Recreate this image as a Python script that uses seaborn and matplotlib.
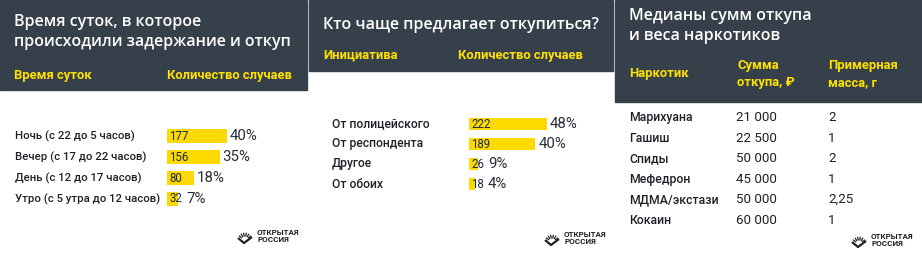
import numpy as np
import pandas as pd
import seaborn as sns
import matplotlib.pyplot as plt
import matplotlib.transforms as mtransforms
from matplotlib.patches import Rectangle
from matplotlib.lines import Line2D

# --- data ---
time_labels = ["Ночь (с 22 до 5 часов)", "Вечер (с 17 до 22 часов)",
               "День (с 12 до 17 часов)", "Утро (с 5 утра до 12 часов)"]
time_counts = [177, 156, 80, 32]
time_pct = [40, 35, 18, 7]

init_labels = ["От полицейского", "От респондента", "Другое", "От обоих"]
init_counts = [222, 189, 26, 18]
init_pct = [48, 40, 9, 4]

drugs = ["Марихуана", "Гашиш", "Спиды", "Мефедрон", "МДМА/экстази", "Кокаин"]
drug_sums = [21000, 22500, 50000, 45000, 50000, 60000]
drug_mass = [2, 1, 2, 1, 2.25, 1]

DARK = "#36404a"
YELLOW = "#fcd900"
HEAD_YELLOW = "#ffe100"
TEXT = "#1e2128"
NUM = "#1f2a4a"

sns.set_theme(style="white")
plt.rcParams['font.family'] = ['Roboto', 'DejaVu Sans']
TITLE_FONT = ['Open Sans', 'DejaVu Sans']

W, H = 922, 260
fig = plt.figure(figsize=(W / 100, H / 100), dpi=100)
fig.patch.set_facecolor("white")


def fx(x):
    return x / W


def fy(y):
    return 1 - y / H


def header(x0, x1, y1):
    fig.patches.append(Rectangle((fx(x0), fy(y1)), (x1 - x0) / W, y1 / H,
                                 transform=fig.transFigure, color=DARK, zorder=0))


def ftext(x, y, s, **kw):
    fig.text(fx(x), fy(y), s, va="center", ha="left", **kw)


def title(x, y, s):
    ftext(x, y, s, fontsize=11.5, color="white", fontweight="semibold", family=TITLE_FONT)


def logo(x, y):
    # small sunburst + chevron, then the wordmark
    tr = fig.transFigure
    fig.add_artist(Line2D([fx(x), fx(x + 6), fx(x + 14)],
                          [fy(y + 2), fy(y + 7), fy(y + 1)], transform=tr,
                          color=TEXT, lw=1.6, solid_capstyle="butt"))
    for ang in np.linspace(35, 145, 6):
        a = np.radians(ang)
        cx, cy = x + 7, y + 4
        fig.add_artist(Line2D([fx(cx + 4 * np.cos(a)), fx(cx + 7 * np.cos(a))],
                              [fy(cy - 4 * np.sin(a)), fy(cy - 7 * np.sin(a))],
                              transform=tr, color=TEXT, lw=0.9))
    ftext(x + 19, y, "ОТКРЫТАЯ\nРОССИЯ", fontsize=5.8, fontweight="bold",
          color=TEXT, linespacing=1.15)


def bar_panel(x0, y_top, y_bot, w_px, label_x, labels, counts, pct, xmax, bar_h, lab_fs):
    ax = fig.add_axes([fx(x0), fy(y_bot), w_px / W, (y_bot - y_top) / H])
    df = pd.DataFrame({"label": labels, "count": counts})
    sns.barplot(data=df, x="count", y="label", ax=ax, color=YELLOW,
                saturation=1, width=bar_h, linewidth=0)
    ax.set_xlim(0, xmax)
    ax.set_ylim(len(labels) - 0.5, -0.5)
    ax.axis("off")
    px_per_unit = w_px / xmax
    tr = mtransforms.blended_transform_factory(fig.transFigure, ax.transData)
    for i, (lab, c, p) in enumerate(zip(labels, counts, pct)):
        ax.text(label_x, i, lab, transform=tr, va="center", ha="left",
                fontsize=lab_fs, color=TEXT, fontweight="medium")
        ax.text(2 / px_per_unit, i, str(c), va="center", ha="left",
                fontsize=8.3, color=NUM)
        lab_px = 5 + 5.6 * len(str(c))
        end = max(c, lab_px / px_per_unit)
        ax.annotate(f"{p}%", xy=(end, i), xytext=(2, 0), textcoords="offset points",
                    va="center", ha="left", fontsize=10.8, color="#2a2e36")
    return ax


# --- panel 1: time of day ---
header(0, 307, 90)
title(14, 22, "Время суток, в которое")
title(14, 42, "происходили задержание и откуп")
ftext(14, 75, "Время суток", fontsize=9.4, color=HEAD_YELLOW, fontweight="bold")
ftext(167, 75, "Количество случаев", fontsize=9.4, color=HEAD_YELLOW, fontweight="bold")
bar_panel(167, 125.5, 209.5, 120, fx(15), time_labels, time_counts, time_pct, 354, 0.62, 8.2)
logo(238, 236)

# --- panel 2: who initiates ---
header(309, 613, 71)
title(323, 25, "Кто чаще предлагает откупиться?")
ftext(323, 55, "Инициатива", fontsize=9.4, color=HEAD_YELLOW, fontweight="bold")
ftext(458, 55, "Количество случаев", fontsize=9.4, color=HEAD_YELLOW, fontweight="bold")
bar_panel(469, 114, 194, 120, fx(332), init_labels, init_counts, init_pct, 341.5, 0.6, 8.7)
logo(545, 238)

# --- panel 3: medians table ---
header(615, 922, 102)
title(629, 16, "Медианы сумм откупа")
title(629, 36, "и веса наркотиков")
ftext(629, 73, "Наркотик", fontsize=9.4, color=HEAD_YELLOW, fontweight="bold")
ftext(737, 74, "Сумма\nоткупа, ₽", fontsize=9.4, color=HEAD_YELLOW, fontweight="bold", linespacing=1.35)
ftext(828, 74, "Примерная\nмасса, г", fontsize=9.4, color=HEAD_YELLOW, fontweight="bold", linespacing=1.35)

row_y = np.linspace(118, 220, len(drugs))
for yy, name, s, m in zip(row_y, drugs, drug_sums, drug_mass):
    ftext(629, yy, name, fontsize=8.8, color=TEXT, fontweight="medium")
    ftext(736, yy, f"{s:,}".replace(",", " "), fontsize=9.6, color=TEXT)
    ftext(828, yy, f"{m:g}".replace(".", ","), fontsize=9.6, color=TEXT)
logo(852, 240)

fig.savefig("out.png", dpi=100, facecolor="white")
